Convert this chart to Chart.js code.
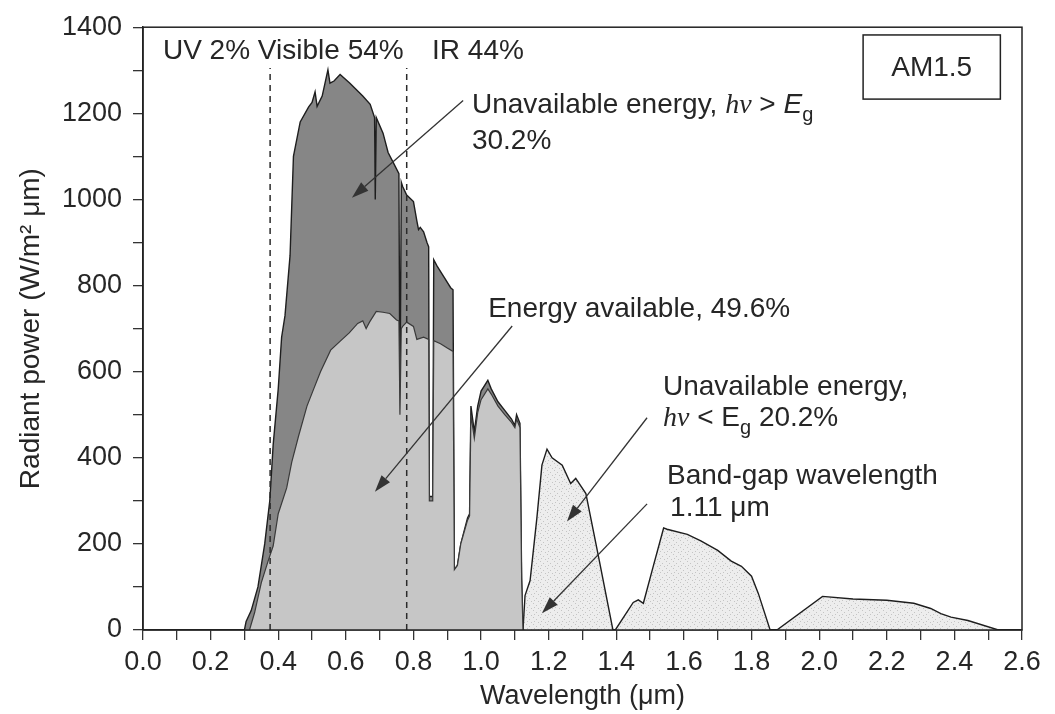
<!DOCTYPE html>
<html>
<head>
<meta charset="utf-8">
<script src="https://cdn.jsdelivr.net/npm/chart.js@4.4.1/dist/chart.umd.min.js"></script>
<style>
  html,body{margin:0;padding:0;background:#fff;}
  #wrap{width:1055px;height:714px;position:relative;}
</style>
</head>
<body>
<div id="wrap"><canvas id="c"></canvas></div>
<script>
// ====== Espectro AM1.5 · valores (λ en μm, W/m² μm) ======

// ---------- Espectro completo hasta el band-gap (zona gris oscura) ----------
const espectroWl = [0.300,0.305,0.32,0.34,0.36,0.375,0.385,0.40,0.41,0.42,0.435,0.445,0.465,0.49,0.50,0.509,0.515,0.53,0.547,0.553,0.565,0.583,0.612,0.65,0.672,0.685,0.687,0.690,0.71,0.725,0.74,0.757,0.760,0.764,0.768,0.78,0.80,0.81,0.815,0.82,0.83,0.84,0.845,0.847,0.857,0.86,0.87,0.89,0.91,0.917,0.921,0.93,0.94,0.96,0.966,0.97,0.98,0.99,1.00,1.02,1.03,1.05,1.07,1.09,1.10,1.105,1.115,1.12,1.124];
const espectroPw = [0,20,45,100,200,300,430,560,680,730,870,1100,1180,1215,1225,1250,1216,1240,1301,1270,1275,1290,1270,1240,1221,1190,1000,1190,1154,1109,1086,1060,505,1040,1030,1010,995,950,930,935,925,900,890,310,310,860,845,820,795,790,140,150,200,260,270,520,460,520,555,580,560,530,510,490,475,500,480,120,0];

// ---------- Energía aprovechable (zona gris clara) ----------
const utilWl = [0.315,0.33,0.35,0.37,0.385,0.40,0.425,0.44,0.46,0.485,0.505,0.525,0.555,0.585,0.61,0.635,0.65,0.66,0.67,0.69,0.71,0.73,0.75,0.757,0.760,0.764,0.768,0.78,0.80,0.81,0.83,0.845,0.847,0.857,0.86,0.88,0.90,0.917,0.921,0.93,0.94,0.96,0.966,0.97,0.98,0.99,1.00,1.02,1.03,1.05,1.07,1.09,1.10,1.105,1.115,1.12,1.124];
const utilPw = [0,40,110,160,195,270,330,390,450,520,560,600,650,672,690,712,718,700,715,740,738,735,720,718,500,700,705,715,705,675,680,675,300,300,672,665,655,647,140,150,200,255,265,500,445,505,535,560,548,520,500,482,470,490,470,115,0];

// ---------- Infrarrojo por debajo del band-gap (punteado) ----------
const irWl = [1.124,1.13,1.145,1.165,1.18,1.195,1.21,1.24,1.265,1.28,1.31,1.35,1.39,1.397,1.45,1.465,1.48,1.51,1.54,1.55,1.61,1.65,1.70,1.74,1.77,1.80,1.82,1.855,1.875,2.01,2.10,2.20,2.28,2.33,2.36,2.39,2.44,2.53];
const irPw = [0,80,115,260,383,420,400,383,340,352,317,160,0,0,64,70,62,150,237,234,222,207,185,160,148,125,85,0,0,78,72,69,62,50,38,30,22,0];

// ---------- Límites UV | visible | IR ----------
const limitesWl = [0.376, 0.78];
const limiteAlto = 1305;

// ---------- Etiquetas de los ejes ----------
const xEtiquetas = ['0.0','0.2','0.4','0.6','0.8','1.0','1.2','1.4','1.6','1.8','2.0','2.2','2.4','2.6'];
const yEtiquetas = [0,200,400,600,800,1000,1200,1400];

// ---------- Anotaciones (en unidades de datos) ----------
const flechas = [
  [0.947, 1230, 0.618, 1004],
  [1.092, 706, 0.686, 321],
  [1.491, 493, 1.254, 252],
  [1.491, 293, 1.180, 39],
];
const textos = [
  {x:0.059, y:1327, partes:[{t:'UV 2% Visible 54%'}]},
  {x:0.855, y:1327, partes:[{t:'IR 44%'}]},
  {x:0.973, y:1201, partes:[{t:'Unavailable energy, '},{t:'hν',it:1,serif:1},{t:' > '},{t:'E',it:1},{t:'g',sub:1}]},
  {x:0.973, y:1118, partes:[{t:'30.2%'}]},
  {x:1.021, y:726,  partes:[{t:'Energy available, 49.6%'}]},
  {x:1.538, y:545,  partes:[{t:'Unavailable energy,'}]},
  {x:1.538, y:474,  partes:[{t:'hν',it:1,serif:1},{t:' < E'},{t:'g',sub:1},{t:' 20.2%'}]},
  {x:1.550, y:339,  partes:[{t:'Band-gap wavelength'}]},
  {x:1.559, y:264,  partes:[{t:'1.11 μm'}]},
];
const caja = {x0:2.130, x1:2.536, y0:1382, y1:1233, texto:'AM1.5'};

const FUENTE = '"Liberation Sans", Arial, Helvetica, sans-serif';
const TINTA = '#262626';

// patrón punteado para la zona IR
function punteado(){
  const c = document.createElement('canvas'); c.width = 7; c.height = 7;
  const g = c.getContext('2d');
  g.fillStyle = '#ededed'; g.fillRect(0,0,7,7);
  g.fillStyle = '#c4c4c4';
  g.fillRect(1,1,1,1); g.fillRect(4,3,1,1); g.fillRect(2,5,1,1); g.fillRect(6,6,1,1);
  return g.createPattern(c, 'repeat');
}

const pares = (xs, ys) => xs.map((x,i)=>({x, y:ys[i]}));

function flecha(ctx, x0, y0, x1, y1){
  const ang = Math.atan2(y1-y0, x1-x0), L = 17, W = 5.5;
  const bx = x1 - L*Math.cos(ang), by = y1 - L*Math.sin(ang);
  ctx.strokeStyle = '#333'; ctx.lineWidth = 1.3;
  ctx.beginPath(); ctx.moveTo(x0,y0); ctx.lineTo(bx,by); ctx.stroke();
  ctx.fillStyle = '#333';
  ctx.beginPath();
  ctx.moveTo(x1,y1);
  ctx.lineTo(bx + W*Math.sin(ang), by - W*Math.cos(ang));
  ctx.lineTo(bx - W*Math.sin(ang), by + W*Math.cos(ang));
  ctx.closePath(); ctx.fill();
}

function texto(ctx, x0, y0, partes){
  let x = x0;
  ctx.fillStyle = TINTA; ctx.textBaseline = 'alphabetic'; ctx.textAlign = 'left';
  partes.forEach(p=>{
    const size = p.sub ? 20 : 28;
    const fam = p.serif ? '"Liberation Serif", serif' : FUENTE;
    ctx.font = `${p.it?'italic ':''}${size}px ${fam}`;
    ctx.fillText(p.t, x, y0 + (p.sub ? 8 : 0));
    x += ctx.measureText(p.t).width;
  });
}

const notas = {
  id: 'notas',
  afterDraw(chart){
    const {ctx, chartArea:a, scales:{x, y}} = chart;
    const px = v => x.getPixelForValue(v), py = v => y.getPixelForValue(v);
    ctx.save();
    ctx.strokeStyle = '#222'; ctx.lineWidth = 1.5;
    ctx.strokeRect(a.left, a.top, a.right-a.left, a.bottom-a.top);
    flechas.forEach(f => flecha(ctx, px(f[0]), py(f[1]), px(f[2]), py(f[3])));
    textos.forEach(t => texto(ctx, px(t.x), py(t.y), t.partes));
    // recuadro AM1.5
    const bx0 = px(caja.x0), bx1 = px(caja.x1), by0 = py(caja.y0), by1 = py(caja.y1);
    ctx.strokeStyle = '#222'; ctx.lineWidth = 1.5;
    ctx.strokeRect(bx0, by0, bx1-bx0, by1-by0);
    ctx.fillStyle = TINTA; ctx.font = `28px ${FUENTE}`;
    ctx.textAlign = 'center'; ctx.textBaseline = 'middle';
    ctx.fillText(caja.texto, (bx0+bx1)/2, (by0+by1)/2 + 1);
    ctx.restore();
  }
};

Chart.defaults.font.family = FUENTE;
Chart.defaults.color = TINTA;

const datasets = [
  {label:'util', data:pares(utilWl, utilPw), order:2, fill:'origin',
   backgroundColor:'#c6c6c6', borderColor:'#3a3a3a', borderWidth:1.2},
  {label:'espectro', data:pares(espectroWl, espectroPw), order:3, fill:'origin',
   backgroundColor:'#868686', borderColor:'#1e1e1e', borderWidth:1.4},
  {label:'ir', data:pares(irWl, irPw), order:3, fill:'origin',
   backgroundColor:punteado(), borderColor:'#1e1e1e', borderWidth:1.4},
];
limitesWl.forEach((w,i)=>datasets.push({label:'lim'+i, data:[{x:w,y:0},{x:w,y:limiteAlto}], order:0,
  fill:false, borderColor:'#2a2a2a', borderWidth:1.5, borderDash:[6,5]}));

new Chart(document.getElementById('c'), {
  type:'line',
  data:{datasets},
  options:{
    responsive:true, maintainAspectRatio:false, animation:false,
    elements:{point:{radius:0}, line:{tension:0}},
    layout:{padding:{top:19, right:33, left:0, bottom:0}},
    plugins:{legend:{display:false}, tooltip:{enabled:false}},
    scales:{
      x:{type:'linear', min:0, max:2.6,
         afterFit:s=>{ s.height = 84; },
         ticks:{stepSize:0.1, autoSkip:false, maxRotation:0, padding:6, color:TINTA, font:{size:27},
                callback:v=>{ const s = (Math.round(v*10)/10).toFixed(1); return xEtiquetas.includes(s) ? s : ''; }},
         grid:{drawOnChartArea:false, tickLength:10, color:'#333', lineWidth:1.3},
         border:{display:true, color:'#222', width:1.5},
         title:{display:true, text:'Wavelength (μm)', color:TINTA, font:{size:27}, padding:{top:0, bottom:1}}},
      y:{min:0, max:1400,
         afterFit:s=>{ s.width = 143; },
         ticks:{stepSize:100, autoSkip:false, padding:11, color:TINTA, font:{size:27},
                callback:v=> yEtiquetas.includes(Math.round(v)) ? String(Math.round(v)) : ''},
         grid:{drawOnChartArea:false, tickLength:10, color:'#333', lineWidth:1.3},
         border:{display:true, color:'#222', width:1.5},
         title:{display:true, text:'Radiant power (W/m² μm)', color:TINTA, font:{size:28}, padding:{top:14, bottom:0}}}
    }
  },
  plugins:[notas]
});
</script>
</body>
</html>
